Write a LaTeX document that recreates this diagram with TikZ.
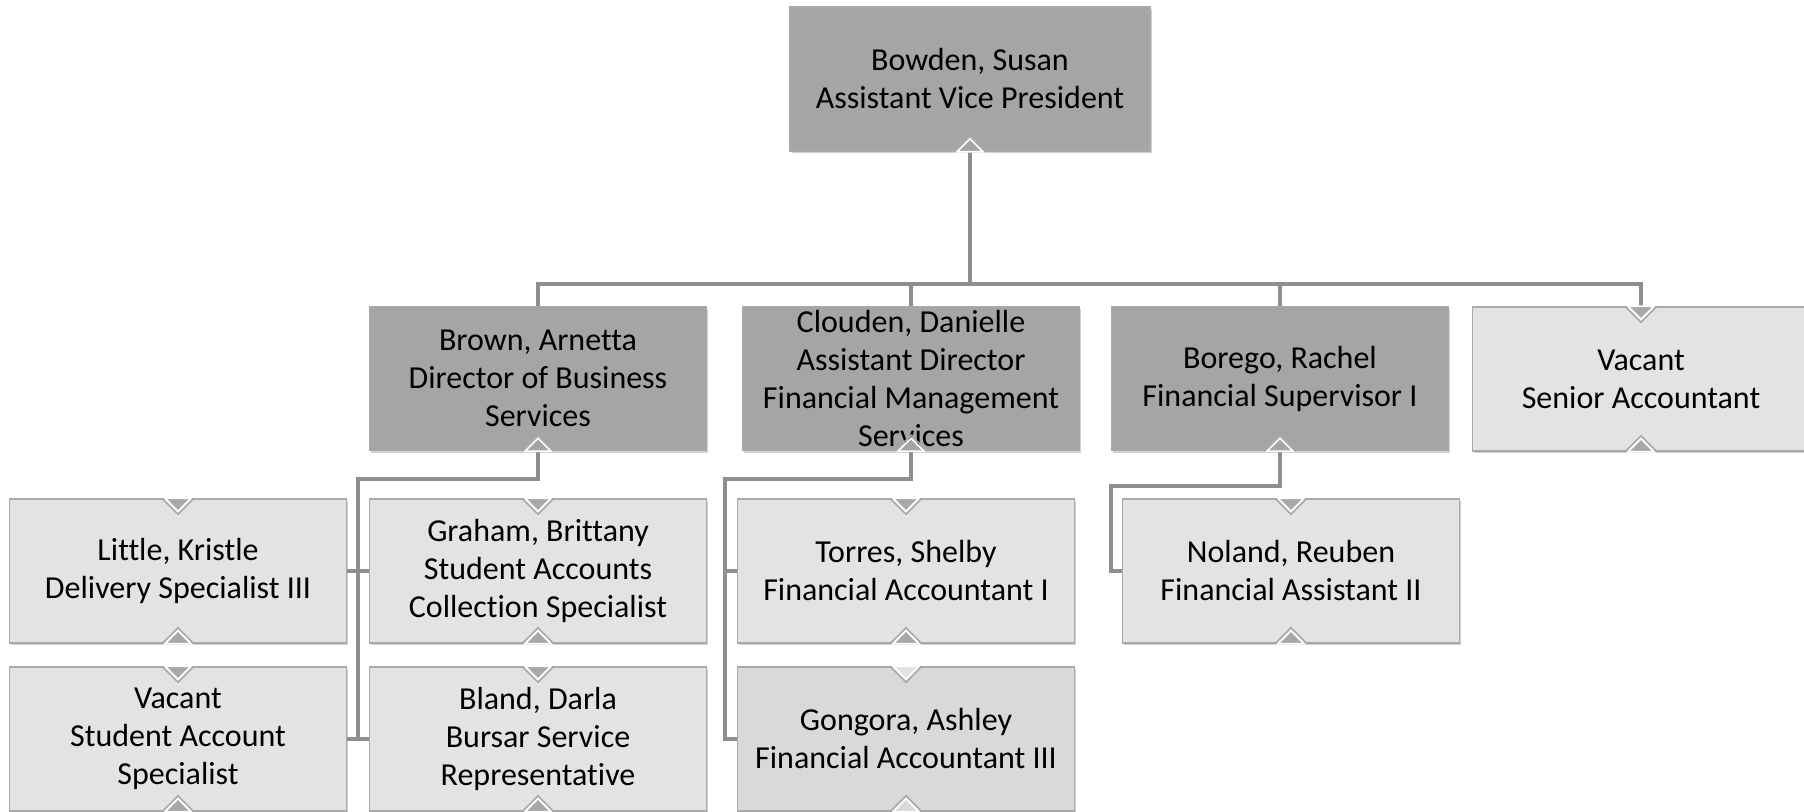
\documentclass[tikz,border=0pt]{standalone}
\usepackage{fontspec}
\setmainfont{Carlito}[RawFeature=-liga]
\usetikzlibrary{positioning, calc, shadows}

\definecolor{darkbox}{HTML}{A5A5A5}
\definecolor{lightbox}{HTML}{E3E3E3}
\definecolor{midbox}{HTML}{D9D9D9}
\definecolor{boxedge}{HTML}{A9A9A9}
\definecolor{wire}{HTML}{8E8E8E}
\definecolor{notchgray}{HTML}{A8A8A8}

\begin{document}
\begin{tikzpicture}[
        x=0.5pt, y=-0.5pt,
        font=\fontsize{16}{19}\selectfont,
        box/.style={draw=boxedge, line width=0.75pt, align=center, inner sep=0pt,
            minimum width=168.5pt, minimum height=72pt,
            drop shadow={shadow xshift=0.8pt, shadow yshift=-1.2pt, opacity=0.18, fill=black}},
        head/.style={box, fill=darkbox},
        staff/.style={box, fill=lightbox},
        conn/.style={draw=wire, line width=2pt},
        notchline/.style={draw=white, line width=0.8pt}
    ]
    \useasboundingbox (0,0) rectangle (1804,812);

    % Top box
    \node[head, minimum width=180pt] (boss) at (970, 79) {Bowden, Susan\\Assistant Vice President};

    % Second level
    \node[head] (brown) at (538, 378.5) {Brown, Arnetta\\Director of Business\\Services};
    \node[head] (clouden) at (911, 378.5) {Clouden, Danielle\\Assistant Director\\Financial Management\\Services};
    \node[head] (borego) at (1280, 378.5) {Borego, Rachel\\Financial Supervisor I};
    \node[staff] (vacsen) at (1641, 379) {Vacant\\Senior Accountant};

    % Third level
    \node[staff] (little) at (178, 571) {Little, Kristle\\Delivery Specialist III};
    \node[staff] (graham) at (538, 571) {Graham, Brittany\\Student Accounts\\Collection Specialist};
    \node[staff] (vacstu) at (178, 739) {Vacant\\Student Account\\Specialist};
    \node[staff] (bland) at (538, 739) {Bland, Darla\\Bursar Service\\Representative};
    \node[staff] (torres) at (906, 571) {Torres, Shelby\\Financial Accountant I};
    \node[box, fill=midbox] (gongora) at (906, 739) {Gongora, Ashley\\Financial Accountant III};
    \node[staff] (noland) at (1291, 571) {Noland, Reuben\\Financial Assistant II};

    % Connectors from the top box
    \foreach \n in {brown, clouden, borego, vacsen}
        \draw[conn] (boss.south) -- ++(0,132) -| (\n.north);

    % Brown's group
    \coordinate (bspine) at ($(little.east)!0.5!(graham.west)$);
    \draw[conn] (brown.south) -- ++(0,28) -| (bspine |- vacstu.east);
    \draw[conn] (little.east) -- (graham.west);
    \draw[conn] (vacstu.east) -- (bland.west);

    % Clouden's group
    \draw[conn] (clouden.south) -- ++(0,28) -| ($(gongora.west)+(-12,0)$) -- (gongora.west);
    \draw[conn] ($(torres.west)+(-12,0)$) -- (torres.west);

    % Borego's group
    \draw[conn] (borego.south) -- ++(0,35) -| ($(noland.west)+(-11,0)$) -- (noland.west);

    % Notches at the bottom of the boxes
    \foreach \n/\c in {boss/darkbox, brown/darkbox, clouden/darkbox, borego/darkbox,
            vacsen/notchgray, little/notchgray, graham/notchgray, vacstu/notchgray,
            bland/notchgray, torres/notchgray, noland/notchgray, gongora/midbox} {
        \draw[boxedge, line width=0.75pt] ($(\n.south)+(-16,0)$) -- ($(\n.south)+(0,-16)$) -- ($(\n.south)+(16,0)$);
        \filldraw[fill=\c, notchline] ($(\n.south)+(-13,0)$) -- ($(\n.south)+(0,-13)$) -- ($(\n.south)+(13,0)$) -- cycle;
    }

    % Notches at the top of the boxes
    \foreach \n/\c in {vacsen/notchgray, little/notchgray, graham/notchgray, vacstu/notchgray,
            bland/notchgray, torres/notchgray, noland/notchgray, gongora/lightbox} {
        \draw[boxedge, line width=0.75pt] ($(\n.north)+(-16,0)$) -- ($(\n.north)+(0,16)$) -- ($(\n.north)+(16,0)$);
        \filldraw[fill=\c, notchline] ($(\n.north)+(-13,0)$) -- ($(\n.north)+(0,13)$) -- ($(\n.north)+(13,0)$) -- cycle;
    }
\end{tikzpicture}
\end{document}
